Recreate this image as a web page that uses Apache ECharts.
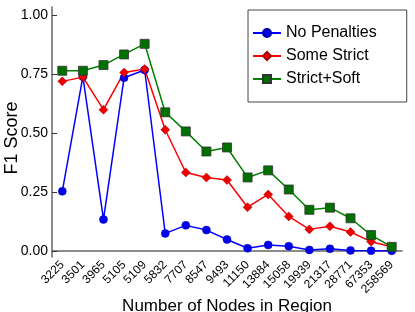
<!DOCTYPE html>
<html><head><meta charset="utf-8">
<script src="https://cdn.jsdelivr.net/npm/echarts@6/dist/echarts.min.js"></script>
<style>html,body{margin:0;padding:0;background:#fff}#c{width:415px;height:312px}</style>
</head><body><div id="c"></div>
<script>
const categories = ['3225','3501','3965','5105','5109','5832','7707','8547','9493','11150','13884','15058','19939','21317','28771','67353','258569'];
const noPenalties = [0.253,0.739,0.134,0.734,0.767,0.075,0.109,0.089,0.049,0.012,0.026,0.021,0.005,0.010,0.003,0.002,0.001];
const someStrict = [0.719,0.737,0.599,0.757,0.771,0.514,0.333,0.312,0.301,0.186,0.240,0.147,0.092,0.105,0.081,0.040,0.018];
const strictSoft = [0.764,0.764,0.788,0.833,0.878,0.588,0.507,0.422,0.439,0.312,0.342,0.261,0.175,0.184,0.139,0.068,0.018];
const yTicks = [0, 0.25, 0.5, 0.75, 1.0];

const font = 'Liberation Sans';
const chart = echarts.init(document.getElementById('c'), null, {renderer:'canvas'});
chart.setOption({
  animation:false,
  backgroundColor:'#fff',
  grid:{left:52,right:13,top:7,bottom:55,containLabel:false,outerBoundsMode:'none'},
  legend:{
    orient:'vertical', left:248, top:10,
    backgroundColor:'#fff', borderColor:'#444', borderWidth:1,
    padding:[15,30,15,4], itemGap:7, itemWidth:28, itemHeight:10,
    textStyle:{fontFamily:font,fontSize:16,color:'#000'},
    data:['No Penalties','Some Strict','Strict+Soft']
  },
  xAxis:{
    type:'category', data:categories, boundaryGap:true,
    name:'Number of Nodes in Region', nameLocation:'middle', nameGap:41, nameMoveOverlap:false,
    nameTextStyle:{fontFamily:font,fontSize:17,color:'#000'},
    axisLine:{lineStyle:{color:'#666',width:1.5}},
    axisTick:{alignWithLabel:true,inside:true,length:5,lineStyle:{color:'#333'}},
    axisLabel:{rotate:45,interval:0,fontFamily:font,fontSize:12,color:'#000',margin:6,hideOverlap:false},
    splitLine:{show:false}
  },
  yAxis:{
    type:'value', min:-0.025, max:1.034,
    name:'F1 Score', nameLocation:'middle', nameGap:31, nameMoveOverlap:false,
    nameTextStyle:{fontFamily:font,fontSize:18,color:'#000',padding:[0,0,0,-12]},
    axisLine:{show:true,lineStyle:{color:'#666',width:1.5}},
    axisTick:{show:true,inside:true,length:5,customValues:yTicks,lineStyle:{color:'#333'}},
    axisLabel:{customValues:yTicks,formatter:v=>v.toFixed(2),fontFamily:font,fontSize:14,color:'#000',margin:4},
    splitLine:{show:false}
  },
  series:[
    {name:'No Penalties',type:'line',data:noPenalties,symbol:'circle',symbolSize:8,
      lineStyle:{color:'#0000ff',width:1.5},itemStyle:{color:'#0000ee',borderColor:'#0000aa',borderWidth:0.5}},
    {name:'Some Strict',type:'line',data:someStrict,symbol:'diamond',symbolSize:9,
      lineStyle:{color:'#ff0000',width:1.5},itemStyle:{color:'#ee0000',borderColor:'#aa0000',borderWidth:0.5}},
    {name:'Strict+Soft',type:'line',data:strictSoft,symbol:'rect',symbolSize:9,
      lineStyle:{color:'#008000',width:1.5},itemStyle:{color:'#007000',borderColor:'#333',borderWidth:0.8}}
  ]
});
</script></body></html>
